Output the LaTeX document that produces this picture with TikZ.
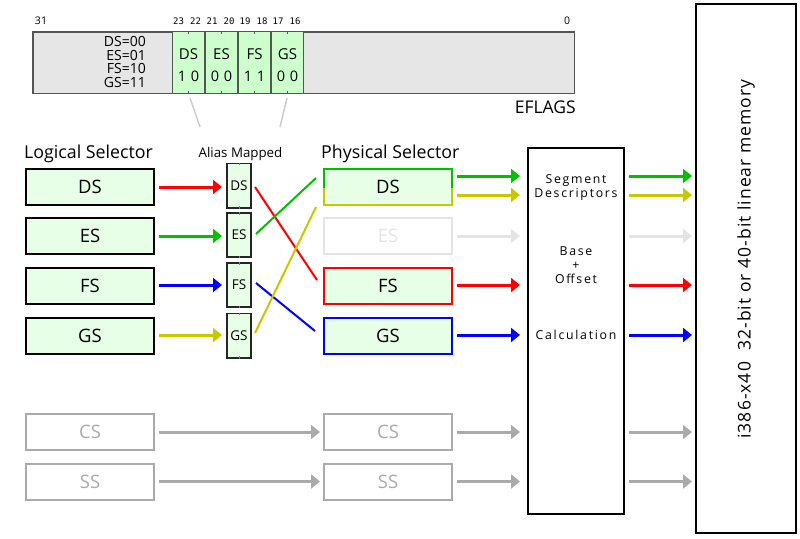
\documentclass[tikz,border=0pt]{standalone}
\usepackage{fontspec}
\setmainfont{Open Sans}
\newfontfamily\monof{DejaVu Sans Mono}
\newfontfamily\spacedf[LetterSpace=14]{Open Sans}
\newfontfamily\memf[LetterSpace=6]{Open Sans}
\usetikzlibrary{arrows.meta,calc}
\definecolor{cgreen}{RGB}{0,192,0}
\definecolor{colive}{RGB}{200,200,0}
\definecolor{cred}{RGB}{255,0,0}
\definecolor{cblue}{RGB}{0,0,255}
\definecolor{cgray}{RGB}{170,170,170}
\definecolor{cpale}{RGB}{228,228,228}
\definecolor{lgreen}{RGB}{230,255,230}
\definecolor{fgreen}{RGB}{204,255,204}
\definecolor{eflag}{RGB}{230,230,230}
\definecolor{eborder}{RGB}{85,85,85}
\definecolor{lnk}{RGB}{204,204,204}
\newcommand\fsz[1]{\fontsize{#1}{#1}\selectfont}
\begin{document}
\begin{tikzpicture}[x=1pt,y=-1pt,
  sel/.style={draw, line width=2pt, fill=lgreen, minimum width=128pt, minimum height=36pt, inner sep=0pt, font=\fsz{18.5}},
  ghost/.style={sel, draw=cgray, fill=white, text=cgray},
  aliasbox/.style={draw=black!85, line width=1.6pt, fill=lgreen, minimum width=24.4pt, minimum height=44.4pt, inner sep=0pt, font=\fsz{13.5}},
  fld/.style={draw=eborder, line width=1.2pt, fill=fgreen, minimum width=31.8pt, minimum height=61.8pt, inner sep=0pt},
  arr/.style={line width=3pt, -{Triangle[length=9pt,width=14pt]}},
  crossln/.style={line width=2pt},
  bigbox/.style={draw, line width=2pt, fill=white, inner sep=0pt},
  tick/.style={eborder, line width=1pt},
  bitnum/.style={font=\monof\fsz{9}, inner sep=0pt},
  lbl/.style={inner sep=0pt}
]
\useasboundingbox (0,0) rectangle (800,538);

% ---------- EFLAGS ----------
\node[draw=eborder, fill=eflag, line width=1.5pt, minimum width=541.5pt, minimum height=61.5pt, inner sep=0pt] (efl) at (303.5,62.5) {};
\node[fld] (fds) at (188.5,62.5) {};
\node[fld] (fes) at (221.5,62.5) {};
\node[fld] (ffs) at (254.5,62.5) {};
\node[fld] (fgs) at (287.5,62.5) {};
\foreach \f in {fds,fes,ffs,fgs}{
  \draw[tick] (\f.north) -- ++(0,3);
  \draw[tick] (\f.south) -- ++(0,-3);
}
\node[lbl, font=\fsz{15}] (tds) at (188.5,54) {DS};
\node[lbl, font=\fsz{15}] (tes) at (221.5,54) {ES};
\node[lbl, font=\fsz{15}] (tfs) at (254.5,54) {FS};
\node[lbl, font=\fsz{15}] (tgs) at (287.5,54) {GS};
\node[lbl, font=\fsz{14.5}] (bds) at (188.5,76) {1\hspace{4.5pt}0};
\node[lbl, font=\fsz{14.5}] (bes) at (221.5,76) {0\hspace{4.5pt}0};
\node[lbl, font=\fsz{14.5}] (bfs) at (254.5,76) {1\hspace{4.5pt}1};
\node[lbl, font=\fsz{14.5}] (bgs) at (287.5,76) {0\hspace{4.5pt}0};
\node[lbl, anchor=east, align=right, font=\fontsize{14}{13.4}\selectfont] (enc) at (146,62) {DS=00\\ES=01\\FS=10\\GS=11};
\node[lbl, font=\fsz{10.5}] (b31) at (41,21) {31};
\node[lbl, font=\fsz{10.5}] (b0) at (567,21) {0};
\node[bitnum] (n23) at (178.5,21) {23};
\node[bitnum] (n22) at (195.5,21) {22};
\node[bitnum] (n21) at (212,21) {21};
\node[bitnum] (n20) at (229,21) {20};
\node[bitnum] (n19) at (245,21) {19};
\node[bitnum] (n18) at (262,21) {18};
\node[bitnum] (n17) at (278,21) {17};
\node[bitnum] (n16) at (295,21) {16};
\node[lbl, anchor=east, font=\fsz{17.5}] (eflname) at (576,107) {EFLAGS};
\coordinate (l1a) at (190,98);
\coordinate (l1b) at (200,127);
\coordinate (l2a) at (287,98);
\coordinate (l2b) at (280,127);
\draw[lnk, line width=1.5pt] (l1a) -- (l1b);
\draw[lnk, line width=1.5pt] (l2a) -- (l2b);

% ---------- headings ----------
\node[lbl, anchor=base west, font=\fsz{17.8}] (hlog) at (24,158) {Logical Selector};
\node[lbl, anchor=base, font=\fsz{13.3}] (hali) at (240.5,157) {Alias Mapped};
\node[lbl, anchor=base west, font=\fsz{17.8}] (hphy) at (321,158) {Physical Selector};

% ---------- logical selectors ----------
\node[sel] (lds) at (90,187) {DS};
\node[sel] (les) at (90,236) {ES};
\node[sel] (lfs) at (90,286) {FS};
\node[sel] (lgs) at (90,336) {GS};
\node[ghost] (lcs) at (90,432) {CS};
\node[ghost] (lss) at (90,481.5) {SS};

% ---------- alias boxes ----------
\node[aliasbox] (ads) at (239,185.5) {DS};
\node[aliasbox] (aes) at (239,235) {ES};
\node[aliasbox] (afs) at (239,285) {FS};
\node[aliasbox] (ags) at (239,335.5) {GS};
\foreach \a in {ads,aes,afs,ags}{
  \draw[gray, line width=0.8pt] (\a.north) -- ++(0,2.5);
  \draw[gray, line width=0.8pt] (\a.south) -- ++(0,-2.5);
}

% ---------- physical selectors ----------
\node[sel, draw=none] (pds) at (388,187) {DS};
\draw[cgreen, line width=2pt] ($(pds.center)+(64,1)$) -- ($(pds.center)+(64,-18)$) -- ($(pds.center)+(-64,-18)$) -- ($(pds.center)+(-64,1)$);
\draw[colive, line width=2pt] ($(pds.center)+(-64,1)$) -- ($(pds.center)+(-64,18)$) -- ($(pds.center)+(64,18)$) -- ($(pds.center)+(64,1)$);
\node[sel, draw=cpale, fill=white, text=cpale] (pes) at (388,236) {ES};
\node[sel, draw=cred] (pfs) at (388,286) {FS};
\node[sel, draw=cblue] (pgs) at (388,336) {GS};
\node[ghost] (pcs) at (388,432) {CS};
\node[ghost] (pss) at (388,481.5) {SS};

% ---------- calc + memory ----------
\node[bigbox, minimum width=96pt, minimum height=366pt] (calcbox) at (576,331) {};
\node[lbl, align=center, font=\spacedf\fontsize{12.3}{14}\selectfont] (tseg) at (576,188) {Segment\\Descriptors};
\node[lbl, align=center, font=\spacedf\fontsize{12.3}{14}\selectfont] (tbase) at (576,265) {Base\\+\\Offset};
\node[lbl, align=center, font=\spacedf\fsz{12.3}] (tcalc) at (576,335) {Calculation};
\node[bigbox, minimum width=100pt, minimum height=529pt] (mem) at (746,268.5) {};
\node[lbl, rotate=90, font=\memf\fsz{17.5}] (memtxt) at (746,259) {i386-x40\ \ 32-bit or 40-bit linear memory};

% ---------- logical -> alias ----------
\draw[arr, cred]   ($(lds.east)+(4,0)$) -- ($(ads.west |- lds.east)+(-4,0)$);
\draw[arr, cgreen] ($(les.east)+(4,0)$) -- ($(aes.west |- les.east)+(-4,0)$);
\draw[arr, cblue]  ($(lfs.east)+(4,-1)$) -- ($(afs.west |- lfs.east)+(-4,-1)$);
\draw[arr, colive] ($(lgs.east)+(4,-1)$) -- ($(ags.west |- lgs.east)+(-4,-1)$);

% ---------- alias -> physical ----------
\draw[crossln, cred]   ($(ads.east)+(3,1.5)$) -- ($(pfs.west)+(-6,-6)$);
\draw[crossln, cgreen] ($(aes.east)+(4,-1)$) -- ($(pds.west)+(-7,-9)$);
\draw[crossln, cblue]  ($(afs.east)+(4,-2)$) -- ($(pgs.west)+(-8,-5)$);
\draw[crossln, colive] ($(ags.east)+(3,-2.5)$) -- ($(pds.west)+(-7,20)$);

% ---------- CS / SS ----------
\draw[arr, cgray] ($(lcs.east)+(4,0)$) -- ($(pcs.west)+(-3,0)$);
\draw[arr, cgray] ($(lss.east)+(4,0)$) -- ($(pss.west)+(-3,0)$);

% ---------- physical -> calc ----------
\draw[arr, cgreen] ($(pds.east)+(4,-11)$) -- ($(calcbox.west |- pds.east)+(-7,-11)$);
\draw[arr, colive] ($(pds.east)+(4,8)$) -- ($(calcbox.west |- pds.east)+(-7,8)$);
\draw[arr, cpale]  ($(pes.east)+(4,0)$) -- ($(calcbox.west |- pes.east)+(-7,0)$);
\draw[arr, cred]   ($(pfs.east)+(4,-1)$) -- ($(calcbox.west |- pfs.east)+(-7,-1)$);
\draw[arr, cblue]  ($(pgs.east)+(4,-1)$) -- ($(calcbox.west |- pgs.east)+(-7,-1)$);
\draw[arr, cgray]  ($(pcs.east)+(4,0)$) -- ($(calcbox.west |- pcs.east)+(-7,0)$);
\draw[arr, cgray]  ($(pss.east)+(4,0)$) -- ($(calcbox.west |- pss.east)+(-7,0)$);

% ---------- calc -> memory ----------
\draw[arr, cgreen] ($(calcbox.east |- pds.east)+(4,-11)$) -- ($(mem.west |- pds.east)+(-3,-11)$);
\draw[arr, colive] ($(calcbox.east |- pds.east)+(4,8)$) -- ($(mem.west |- pds.east)+(-3,8)$);
\draw[arr, cpale]  ($(calcbox.east |- pes.east)+(4,0)$) -- ($(mem.west |- pes.east)+(-3,0)$);
\draw[arr, cred]   ($(calcbox.east |- pfs.east)+(4,-1)$) -- ($(mem.west |- pfs.east)+(-3,-1)$);
\draw[arr, cblue]  ($(calcbox.east |- pgs.east)+(4,-1)$) -- ($(mem.west |- pgs.east)+(-3,-1)$);
\draw[arr, cgray]  ($(calcbox.east |- pcs.east)+(4,0)$) -- ($(mem.west |- pcs.east)+(-3,0)$);
\draw[arr, cgray]  ($(calcbox.east |- pss.east)+(4,0)$) -- ($(mem.west |- pss.east)+(-3,0)$);
\end{tikzpicture}
\end{document}
